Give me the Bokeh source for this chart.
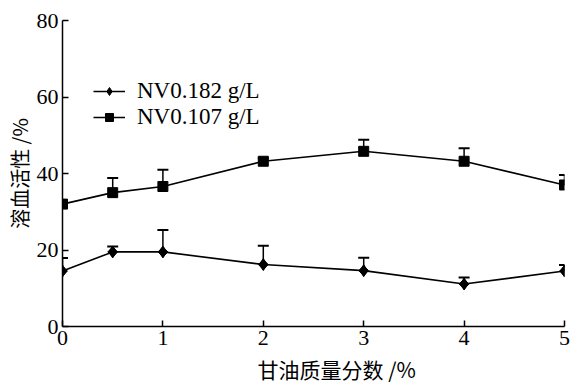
from bokeh.plotting import figure
from bokeh.models import Whisker, ColumnDataSource, Legend, LegendItem, TeeHead, Range1d, FixedTicker, Title
from bokeh.embed import file_html
from bokeh.resources import INLINE
import math

# Data
glycerol = [0, 0.5, 1, 2, 3, 4, 5]
nv182 = [14.5, 19.5, 19.5, 16.2, 14.6, 11.1, 14.5]
nv182_err = [3.4, 1.4, 5.7, 4.9, 3.4, 1.7, 1.6]
nv107 = [32.0, 35.0, 36.6, 43.2, 45.8, 43.2, 37.0]
nv107_err = [0.0, 3.8, 4.4, 0.8, 3.0, 3.4, 2.6]
labels = ["NV0.182 g/L", "NV0.107 g/L"]
x_label = "甘油质量分数 /%"
y_label = "溶血活性 /%"
x_ticks = [0, 1, 2, 3, 4, 5]
y_ticks = [0, 20, 40, 60, 80]

serif = "Liberation Serif"
cjk = "Noto Sans CJK SC"

p = figure(width=572, height=387, output_backend="svg", toolbar_location=None,
           x_range=Range1d(0, 5), y_range=Range1d(0, 80),
           min_border_left=62, min_border_right=8, min_border_top=20, min_border_bottom=59)
p.outline_line_color = None
p.grid.visible = False
p.background_fill_color = "white"
p.border_fill_color = "white"

for ax in (p.xaxis[0], p.yaxis[0]):
    ax.major_tick_in = 6
    ax.major_tick_out = 0
    ax.minor_tick_line_color = None
    ax.axis_line_color = "black"
    ax.axis_line_width = 1.5
    ax.major_tick_line_width = 1.5
    ax.major_label_text_font = serif
    ax.major_label_text_font_size = "22px"
    ax.major_label_text_color = "black"
    ax.axis_label_text_font = cjk
    ax.axis_label_text_font_size = "20px"
    ax.axis_label_text_font_style = "normal"
    ax.axis_label_text_color = "black"

p.xaxis.ticker = FixedTicker(ticks=x_ticks)
p.yaxis.ticker = FixedTicker(ticks=y_ticks)
p.yaxis.axis_label = y_label
p.xaxis.major_label_standoff = 4
p.yaxis.major_label_standoff = 4
p.yaxis.axis_label_standoff = 0

xt = Title(text=x_label, align="left", offset=195, text_font=cjk, text_font_size="21px",
           text_font_style="normal", text_color="black", standoff=8)
p.add_layout(xt, "below")

src1 = ColumnDataSource(dict(x=glycerol, y=nv182, up=[a + b for a, b in zip(nv182, nv182_err)]))
src2 = ColumnDataSource(dict(x=glycerol, y=nv107, up=[a + b for a, b in zip(nv107, nv107_err)]))

for src in (src1, src2):
    w = Whisker(source=src, base="x", lower="y", upper="up", line_color="black", line_width=1.5,
                upper_head=TeeHead(size=11, line_color="black", line_width=2), lower_head=None)
    p.add_layout(w)

l1 = p.line("x", "y", source=src1, line_color="black", line_width=1.6)
m1 = p.scatter("x", "y", source=src1, marker="square", angle=math.pi / 4, size=7,
               fill_color="black", line_color="black")
d1 = p.scatter("x", "y", source=src1, marker="diamond", size=12,
               fill_color="black", line_color="black")
l2 = p.line("x", "y", source=src2, line_color="black", line_width=1.6)
m2 = p.scatter("x", "y", source=src2, marker="square", size=10,
               fill_color="black", line_color="black")

legend = Legend(items=[LegendItem(label=labels[0], renderers=[l1, d1]),
                       LegendItem(label=labels[1], renderers=[l2, m2])],
                location=(31, 196), padding=0, margin=0, spacing=-2,
                glyph_width=32, glyph_height=20, label_height=20, label_standoff=12,
                label_text_font=serif, label_text_font_size="23px", label_text_color="black",
                border_line_color=None, background_fill_alpha=0)
p.add_layout(legend)

open("out.html", "w").write(file_html(p, INLINE))
